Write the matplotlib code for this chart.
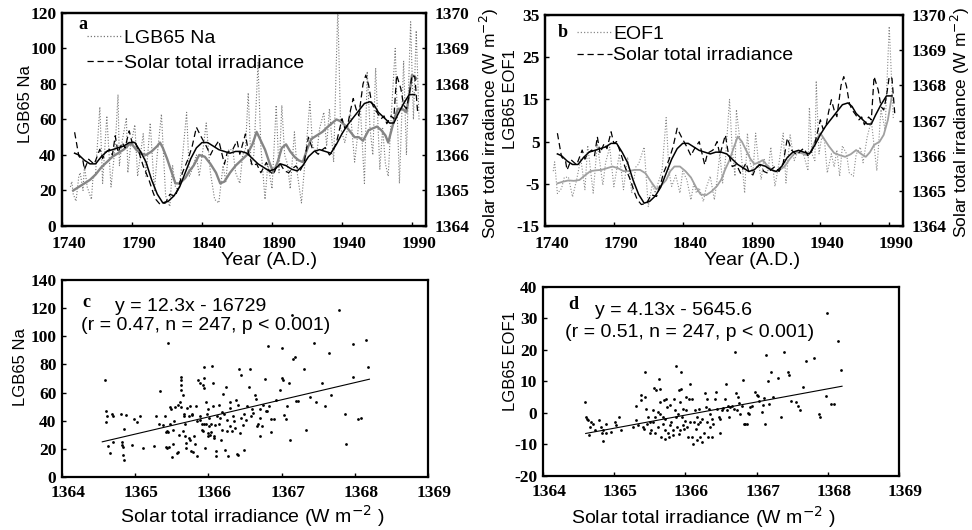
import matplotlib
matplotlib.use('Agg')
import matplotlib.pyplot as plt
from matplotlib.lines import Line2D
from matplotlib.transforms import ScaledTranslation

plt.rcParams['font.family'] = ['Liberation Sans', 'DejaVu Sans']

# ---------------- data ----------------
# Raw LGB65 Na series (panel a, dotted)
na_years = [1746, 1747, 1748, 1750, 1752, 1753, 1755, 1756, 1758, 1761, 1762, 1764, 1767, 1769,
            1772, 1774, 1775, 1778, 1780, 1781, 1783, 1786, 1787, 1789, 1792, 1794, 1796, 1798,
            1800, 1803, 1806, 1808, 1811, 1814, 1817, 1819, 1821, 1823, 1825, 1829, 1831, 1833,
            1836, 1838, 1841, 1843, 1846, 1849, 1852, 1855, 1857, 1859, 1862, 1864, 1867, 1869,
            1871, 1873, 1875, 1877, 1880, 1882, 1885, 1887, 1890, 1893, 1895, 1897, 1899, 1901,
            1903, 1906, 1908, 1911, 1914, 1917, 1919, 1922, 1924, 1927, 1929, 1931, 1934, 1937,
            1939, 1942, 1944, 1946, 1949, 1951, 1953, 1956, 1958, 1960, 1962, 1964, 1967, 1969,
            1971, 1973, 1975, 1978, 1981, 1984, 1986, 1989, 1991, 1993, 1995]
na_raw = [22, 25, 18, 14, 28, 30, 20, 34, 22, 15, 26, 30, 67, 24,
          62, 35, 22, 45, 74, 34, 48, 61, 30, 45, 57, 28, 40, 52,
          28, 58, 20, 40, 63, 17, 11, 34, 22, 20, 30, 64, 28, 32,
          40, 28, 45, 58, 30, 15, 13, 34, 25, 43, 43, 30, 24, 40,
          43, 75, 35, 40, 92, 45, 15, 35, 21, 68, 30, 68, 40, 35,
          21, 53, 30, 13, 40, 70, 45, 41, 55, 64, 45, 66, 36, 123,
          55, 47, 55, 64, 36, 50, 68, 24, 87, 55, 40, 89, 32, 55,
          35, 28, 60, 100, 24, 93, 40, 115, 60, 110, 60]

# Smoothed LGB65 Na (panel a, thick grey)
na_s_years = [1748, 1752, 1756, 1760, 1764, 1768, 1772, 1776, 1780, 1784, 1788, 1790, 1793, 1796,
              1800, 1804, 1808, 1810, 1812, 1815, 1818, 1821, 1824, 1828, 1831, 1834, 1838, 1842,
              1846, 1850, 1853, 1856, 1860, 1864, 1868, 1872, 1876, 1879, 1882, 1885, 1888, 1891,
              1894, 1897, 1900, 1903, 1906, 1909, 1912, 1915, 1918, 1922, 1926, 1930, 1933, 1936,
              1939, 1943, 1946, 1949, 1952, 1955, 1959, 1962, 1965, 1968, 1971, 1973, 1976, 1978,
              1980, 1983, 1986, 1988, 1990, 1992, 1993]
na_smooth = [20, 22, 24, 26, 29, 33, 36, 39, 41, 43, 46, 46, 43, 41,
             40, 42, 45, 47, 44, 38, 31, 24, 24, 27, 31, 34, 40, 39,
             35, 30, 24, 25, 30, 34, 37, 40, 46, 53, 48, 43, 36, 30,
             36, 44, 46, 42, 39, 37, 36, 43, 49, 51, 53, 56, 58, 60,
             59, 56, 53, 50, 50, 48, 54, 55, 56, 54, 51, 47, 56, 62,
             66, 66, 64, 74, 85, 84, 83]

# Raw LGB65 EOF1 series (panel b, dotted)
eof_years = [1746, 1747, 1749, 1752, 1754, 1757, 1760, 1763, 1766, 1769, 1771, 1775, 1778, 1782,
             1784, 1787, 1790, 1794, 1797, 1800, 1803, 1806, 1808, 1812, 1815, 1818, 1820, 1822,
             1825, 1828, 1830, 1832, 1835, 1838, 1840, 1843, 1846, 1848, 1850, 1852, 1855, 1857,
             1860, 1863, 1865, 1867, 1869, 1871, 1874, 1876, 1878, 1879, 1882, 1885, 1887, 1889,
             1891, 1893, 1895, 1897, 1899, 1902, 1904, 1907, 1910, 1913, 1915, 1918, 1921, 1924,
             1927, 1931, 1932, 1934, 1936, 1937, 1939, 1941, 1943, 1945, 1948, 1950, 1952, 1954,
             1956, 1959, 1961, 1964, 1966, 1969, 1971, 1974, 1977, 1979, 1981, 1984, 1987, 1990,
             1993]
eof_raw = [-2, 0.2, -7.3, -6.1, -3.5, -3.4, -8.1, -4, 1.0, -6.4, 4.1, -7.2, 4.5, -5.3,
           0, 3.7, -5.7, 2.1, -6.4, 1.3, -7.2, -1, -0.3, 3.7, -10.4, -5, -7.2, -5,
           -1.9, 10.7, -2, -5.6, -3, -7.2, -2, -4, -8.8, -5, -7.2, -6, -9.2, -6,
           -3.2, -8.8, -4, 2.1, -4.8, 0.5, 15, 3, -3.2, 12.6, 4, -7.2, 7.0, 0,
           -2.4, 7, 0, -4, 1, -2, 3.7, -5.6, 0, 7, -4.8, 6.6, 0.5, 3,
           2.9, -1.9, 13.1, 2, 0.5, 19.4, 2.1, 6, 5.3, -2.4, 2.1, -1, 3, -3.2,
           4, 2.1, -2.4, -3.2, 2, 3.7, 0, 6.1, 10, 4, -1.9, 12.6, 7.8, 32.3,
           10.2]

# Smoothed LGB65 EOF1 (panel b, light grey)
eof_s_years = [1749, 1753, 1757, 1761, 1765, 1769, 1773, 1777, 1781, 1785, 1789, 1793, 1797, 1801,
               1805, 1809, 1813, 1817, 1821, 1825, 1828, 1831, 1834, 1838, 1842, 1846, 1850, 1853,
               1857, 1861, 1865, 1868, 1871, 1874, 1877, 1880, 1883, 1886, 1889, 1892, 1895, 1898,
               1901, 1904, 1907, 1910, 1914, 1918, 1922, 1926, 1930, 1933, 1936, 1940, 1943, 1946,
               1950, 1954, 1958, 1962, 1966, 1970, 1973, 1976, 1979, 1983, 1986, 1989, 1991, 1992]
eof_smooth = [-4.9, -4.5, -4.2, -4.3, -4.1, -3.0, -2.0, -1.8, -1.7, -1.3, -0.9, -1.3, -2.0, -2.0,
              -1.7, -1.7, -2.5, -4.5, -6.3, -5.2, -4.1, -2.0, -0.9, -0.9, -2.0, -3.5, -6.0, -7.5,
              -7.7, -6.8, -5.5, -4.0, -1.5, 0.6, 3.5, 6.2, 5.0, 3.0, 1.0, -0.3, 0.0, 0.6,
              -0.5, -1.5, -2.1, -1.8, -0.9, 1.0, 2.5, 2.3, 1.8, 2.5, 5.0, 7.0, 5.5, 4.0,
              2.3, 1.8, 1.4, 2.0, 3.0, 2.0, 1.4, 2.5, 4.2, 5.0, 6.6, 10.1, 14.0, 16.0]

# Solar total irradiance (W m-2), raw (dashed) and smoothed (solid black)
solar_years = [1749, 1752, 1755, 1756, 1759, 1763, 1767, 1769, 1771, 1774, 1776, 1778, 1780, 1783,
               1785, 1788, 1790, 1792, 1795, 1798, 1802, 1805, 1807, 1810, 1814, 1817, 1821, 1824,
               1826, 1830, 1833, 1836, 1839, 1843, 1846, 1848, 1852, 1856, 1858, 1862, 1865, 1867,
               1871, 1873, 1876, 1879, 1882, 1886, 1888, 1891, 1893, 1896, 1899, 1902, 1904, 1907,
               1910, 1913, 1916, 1919, 1923, 1926, 1928, 1931, 1933, 1936, 1940, 1942, 1944, 1946,
               1948, 1950, 1952, 1955, 1957, 1959, 1961, 1963, 1965, 1968, 1970, 1972, 1975, 1977,
               1979, 1982, 1984, 1986, 1988, 1990, 1992, 1994]
solar_raw = [1366.64, 1365.97, 1365.83, 1365.59, 1365.88, 1365.74, 1366.16, 1365.90, 1366.07,
             1366.16, 1366.00, 1366.54, 1366.07, 1366.35, 1366.20, 1366.68, 1366.35, 1366.40,
             1366.07, 1365.69, 1365.31, 1364.95, 1364.75, 1364.61, 1364.65, 1364.89, 1364.84,
             1365.20, 1365.50, 1365.88, 1366.25, 1366.78, 1366.54, 1366.25, 1366.00, 1366.16,
             1366.40, 1365.74, 1366.07, 1366.16, 1366.40, 1366.02, 1366.59, 1366.10, 1365.69,
             1365.75, 1365.50, 1365.79, 1365.55, 1365.45, 1365.65, 1365.74, 1365.55, 1365.50,
             1365.60, 1365.69, 1365.55, 1365.79, 1366.50, 1366.16, 1366.02, 1366.15, 1366.21,
             1366.00, 1366.07, 1366.35, 1367.02, 1366.75, 1366.83, 1367.25, 1367.59, 1367.30,
             1367.11, 1368.00, 1368.25, 1367.97, 1367.50, 1367.30, 1367.20, 1367.02, 1367.10,
             1366.88, 1367.10, 1367.02, 1368.25, 1367.87, 1367.40, 1367.30, 1367.69, 1368.25,
             1368.20, 1367.21]
solar_s_years = [1749, 1752, 1756, 1760, 1764, 1768, 1772, 1776, 1780, 1784, 1788, 1792, 1796, 1800,
                 1804, 1808, 1812, 1816, 1820, 1824, 1828, 1832, 1836, 1840, 1844, 1848, 1852, 1856,
                 1860, 1864, 1868, 1872, 1876, 1880, 1884, 1888, 1892, 1896, 1900, 1904, 1908, 1912,
                 1916, 1920, 1924, 1928, 1932, 1936, 1940, 1944, 1948, 1952, 1956, 1960, 1963, 1966,
                 1970, 1974, 1977, 1980, 1984, 1988, 1992]
solar_smooth = [1366.05, 1366.0, 1365.85, 1365.75, 1365.75, 1365.95, 1366.1, 1366.15, 1366.2,
                1366.25, 1366.35, 1366.35, 1366.1, 1365.8, 1365.3, 1364.9, 1364.65, 1364.7,
                1364.85, 1365.1, 1365.5, 1365.9, 1366.2, 1366.35, 1366.35, 1366.25, 1366.15,
                1366.1, 1366.05, 1366.1, 1366.1, 1366.05, 1365.9, 1365.75, 1365.65, 1365.55,
                1365.6, 1365.75, 1365.7, 1365.6, 1365.55, 1365.7, 1365.95, 1366.1, 1366.15,
                1366.1, 1366.05, 1366.3, 1366.6, 1366.85, 1367.05, 1367.25, 1367.45, 1367.5,
                1367.4, 1367.2, 1367.05, 1366.9, 1366.9, 1367.15, 1367.45, 1367.7, 1367.7]

# Scatter c: solar irradiance vs LGB65 Na
c_x = [1364.59, 1364.60, 1364.60, 1364.62, 1364.63, 1364.65, 1364.68, 1364.70, 1364.70, 1364.80,
       1364.82, 1364.82, 1364.83, 1364.84, 1364.85, 1364.85, 1364.87, 1364.95, 1364.99, 1365.02,
       1365.07, 1365.10, 1365.26, 1365.29, 1365.32, 1365.34, 1365.38, 1365.41, 1365.42, 1365.43,
       1365.45, 1365.42, 1365.44, 1365.46, 1365.45, 1365.48, 1365.48, 1365.49, 1365.50, 1365.51,
       1365.52, 1365.53, 1365.54, 1365.57, 1365.58, 1365.59, 1365.60, 1365.61, 1365.62, 1365.63,
       1365.63, 1365.63, 1365.63, 1365.65, 1365.65, 1365.66, 1365.67, 1365.68, 1365.68, 1365.69,
       1365.70, 1365.71, 1365.73, 1365.74, 1365.75, 1365.75, 1365.76, 1365.77, 1365.78, 1365.79,
       1365.80, 1365.82, 1365.83, 1365.84, 1365.85, 1365.86, 1365.88, 1365.89, 1365.89, 1365.91,
       1365.91, 1365.92, 1365.93, 1365.94, 1365.94, 1365.94, 1365.94, 1365.95, 1365.97, 1365.97,
       1365.98, 1365.99, 1366.00, 1366.00, 1366.01, 1366.01, 1366.02, 1366.03, 1366.04, 1366.05,
       1366.06, 1366.06, 1366.07, 1366.08, 1366.09, 1366.10, 1366.11, 1366.12, 1366.14, 1366.15,
       1366.16, 1366.17, 1366.18, 1366.19, 1366.20, 1366.21, 1366.23, 1366.24, 1366.25, 1366.26,
       1366.27, 1366.29, 1366.30, 1366.30, 1366.32, 1366.34, 1366.35, 1366.36, 1366.38, 1366.39,
       1366.40, 1366.41, 1366.42, 1366.43, 1366.44, 1366.45, 1366.47, 1366.48, 1366.49, 1366.51,
       1366.53, 1366.56, 1366.57, 1366.58, 1366.60, 1366.61, 1366.64, 1366.65, 1366.66, 1366.68,
       1366.70, 1366.70, 1366.71, 1366.73, 1366.75, 1366.77, 1366.79, 1366.80, 1366.82, 1366.83,
       1366.85, 1366.86, 1366.89, 1366.93, 1366.98, 1367.00, 1367.01, 1367.02, 1367.03, 1367.06,
       1367.08, 1367.10, 1367.11, 1367.14, 1367.16, 1367.18, 1367.20, 1367.23, 1367.31, 1367.33,
       1367.39, 1367.44, 1367.47, 1367.55, 1367.59, 1367.65, 1367.68, 1367.79, 1367.86, 1367.88,
       1367.98, 1367.98, 1368.05, 1368.09, 1368.15, 1368.18]
c_y = [68.6, 47, 39, 43.7, 21.7, 16.8, 45, 43.7, 25, 45,
       24.6, 23, 21, 15.4, 12, 34, 44, 23, 41, 39,
       43, 20.6, 21.7, 43, 37.8, 61, 37, 43.5, 32, 32.5,
       32, 21, 20.5, 21, 95.5, 38, 50, 48, 14, 23.6,
       33.6, 40, 50, 17, 51, 17.5, 30, 53, 49.6, 71,
       69, 65.5, 62, 58.4, 32.4, 43, 45, 38, 29, 24,
       20.6, 49, 43, 27.7, 26.5, 50.6, 18.7, 44, 45, 18,
       29, 23.6, 50.6, 39.5, 14.7, 69, 43, 66.7, 40.7, 33.6,
       37.8, 65.5, 32.4, 78, 70, 63, 38, 20.6, 53, 37.8,
       45, 29, 48, 31, 42, 36, 30, 38, 32, 79,
       67, 50.6, 29, 27.7, 37, 14.7, 18.7, 43, 38, 51,
       42, 26.5, 33.6, 46, 59, 45, 19.4, 64.3, 40.7, 32.4,
       14.7, 49, 53, 36, 32.4, 43, 39.5, 34.8, 54.4, 16.5,
       15.8, 51, 77, 31, 42, 72.6, 37, 45, 19.4, 40.7,
       50.6, 64, 76.6, 43, 48, 45.4, 58.4, 55.3, 36, 38,
       42, 48, 29.3, 36, 51, 69.5, 46.6, 46.6, 93, 50.6,
       31.7, 41, 41, 54.4, 61.5, 91.5, 70, 69, 44, 41,
       50.6, 66.7, 26, 115, 83.7, 85, 53.7, 53.7, 76.6, 33.6,
       57, 95.5, 53, 66.7, 50.6, 88.4, 58.4, 118.7, 45, 23.6,
       71.4, 94.6, 41, 42, 97.4, 78]
c_line_x = [1364.55, 1368.2]
c_line_y = [25.0, 69.5]

# Scatter d: solar irradiance vs LGB65 EOF1
d_x = [1364.59, 1364.60, 1364.62, 1364.63, 1364.65, 1364.66, 1364.68, 1364.70, 1364.73, 1364.79,
       1364.82, 1364.83, 1364.84, 1364.85, 1364.88, 1364.88, 1364.96, 1365.01, 1365.03, 1365.07,
       1365.10, 1365.27, 1365.30, 1365.31, 1365.34, 1365.37, 1365.38, 1365.41, 1365.42, 1365.43,
       1365.44, 1365.45, 1365.46, 1365.48, 1365.50, 1365.51, 1365.52, 1365.54, 1365.55, 1365.56,
       1365.57, 1365.58, 1365.59, 1365.61, 1365.62, 1365.63, 1365.64, 1365.64, 1365.65, 1365.66,
       1365.68, 1365.69, 1365.70, 1365.71, 1365.71, 1365.72, 1365.73, 1365.74, 1365.76, 1365.77,
       1365.78, 1365.79, 1365.80, 1365.82, 1365.83, 1365.84, 1365.85, 1365.87, 1365.87, 1365.88,
       1365.90, 1365.91, 1365.91, 1365.92, 1365.93, 1365.94, 1365.94, 1365.95, 1365.96, 1365.97,
       1365.98, 1365.99, 1366.01, 1366.01, 1366.02, 1366.04, 1366.05, 1366.06, 1366.07, 1366.09,
       1366.10, 1366.11, 1366.12, 1366.13, 1366.15, 1366.16, 1366.17, 1366.18, 1366.19, 1366.20,
       1366.21, 1366.23, 1366.24, 1366.26, 1366.27, 1366.29, 1366.30, 1366.31, 1366.32, 1366.33,
       1366.34, 1366.35, 1366.37, 1366.38, 1366.39, 1366.41, 1366.43, 1366.45, 1366.47, 1366.48,
       1366.49, 1366.51, 1366.53, 1366.55, 1366.57, 1366.59, 1366.60, 1366.61, 1366.63, 1366.66,
       1366.68, 1366.69, 1366.71, 1366.72, 1366.74, 1366.76, 1366.77, 1366.79, 1366.81, 1366.82,
       1366.84, 1366.86, 1366.88, 1366.90, 1366.91, 1366.94, 1366.98, 1367.00, 1367.02, 1367.04,
       1367.07, 1367.09, 1367.10, 1367.12, 1367.13, 1367.16, 1367.18, 1367.20, 1367.23, 1367.30,
       1367.34, 1367.38, 1367.44, 1367.46, 1367.49, 1367.56, 1367.58, 1367.61, 1367.65, 1367.70,
       1367.81, 1367.87, 1367.89, 1367.97, 1367.99, 1368.05, 1368.09, 1368.15, 1368.19]
d_y = [3.5, -1.3, -1.8, -2.3, -7, -4.4, -2.8, -3.6, -5.3, -2.3,
       -4.4, -6.5, -8.8, -5.3, -6.5, -3.4, -6, -2.8, -3.9, -1.3,
       -5.3, -4.4, -2.3, 2.1, -3.9, 4, 5.6, -4.4, -5, 5,
       13, 1.4, -3.4, -1.3, -6.5, -2.8, -5.5, 0.8, -2.8, 8,
       -1.3, -6.3, 7.2, 0.3, -4.4, 10.8, 7.7, 3.5, -0.2, -7.6,
       -1.3, -3.4, 4, -5.5, -8.1, -1.8, 4.5, 1.9, -6.5, -7.6,
       -3.9, 2.4, -2.8, -7, -5.3, 4.5, 0.8, 15, -1.3, -4.4,
       -0.2, 7.2, -6.7, 3.5, -5.5, 7.7, 13, -1.3, -3.9, 1.4,
       -5, -2.5, 0.8, 5, -4.4, -7.6, 4.5, 9.3, -2.8, -7.6,
       4.5, -9.7, -2.8, 0.8, -5, -1.3, -8.6, -3.4, 1.4, -2.8,
       -7.6, -9.2, -1.8, -6.5, 6.3, 1.9, 4.5, -2.8, -7.6, 1.4,
       -4.4, -0.2, -7.6, -1.8, -3.6, 4.5, 6.6, 1.4, -1.3, -1.8,
       -6.3, 0.8, 1.7, 4.5, 9.3, 0.8, 2.1, -1.3, 1.9, 2.1,
       1.4, 19.3, 6.3, 0.8, 5, 3.2, -0.4, 2.1, 10.5, -3.4,
       -3.4, -3.4, 0, -0.4, 1.9, 2.1, 6.6, 5.6, 5.3, 3.8,
       0.3, 2.4, 4.8, -3.4, 18.5, 10.3, 2.9, 13, 5, 11.2,
       -1.3, 19.3, 13, 12.2, 3.8, 3.5, 2.1, 0.8, 8.4, 16.4,
       17.5, -0.4, -1.3, 5.3, 31.9, 2.7, 2.9, 22.7, 13.7]
d_line_x = [1364.6, 1368.2]
d_line_y = [-6.5, 8.5]

# ticks
year_ticks = [1740, 1790, 1840, 1890, 1940, 1990]
solar_ticks = [1364, 1365, 1366, 1367, 1368, 1369, 1370]
na_ticks = [0, 20, 40, 60, 80, 100, 120]
eof_ticks = [-15, -5, 5, 15, 25, 35]
sc_x_ticks = [1364, 1365, 1366, 1367, 1368, 1369]
c_y_ticks = [0, 20, 40, 60, 80, 100, 120, 140]
d_y_ticks = [-20, -10, 0, 10, 20, 30, 40]

# ---------------- style helpers ----------------
TF = dict(fontfamily='Liberation Serif', fontweight='bold', fontsize=12.5)
HLAB = 14      # horizontal sans texts
VLAB = 12      # rotated axis labels
GREY_DOT = '#777777'

fig = plt.figure(figsize=(9.72, 5.30), dpi=100)


def frame(ax, xpad=5):
    for s in ax.spines.values():
        s.set_linewidth(1.6)
    ax.tick_params(direction='in', length=3, width=1)
    ax.tick_params(axis='y', pad=4)
    ax.tick_params(axis='x', pad=xpad)


def shift_xlabels(ax, dx_px=6):
    off = ScaledTranslation(dx_px / 100.0, 0, fig.dpi_scale_trans)
    for lab in ax.get_xticklabels():
        lab.set_transform(lab.get_transform() + off)


def letter(ax, x, y, s):
    ax.text(x, y, s, transform=ax.transAxes, fontfamily='Liberation Serif',
            fontweight='bold', fontsize=13, va='center', ha='left')


ax_a = fig.add_axes([0.0638, 0.5736, 0.3745, 0.402])
ax_b = fig.add_axes([0.5607, 0.5736, 0.3683, 0.398])
ax_c = fig.add_axes([0.0638, 0.100, 0.3765, 0.3717])
ax_d = fig.add_axes([0.5586, 0.1019, 0.3663, 0.3566])

# ---------------- panel a ----------------
ax_a.plot(na_years, na_raw, color=GREY_DOT, ls=(0, (1, 1.6)), lw=0.8)
ax_a.plot(na_s_years, na_smooth, color='#858585', lw=1.7)
ax_a.set_xlim(1740, 2000)
ax_a.set_ylim(0, 120)
ax_a.set_xticks(year_ticks, labels=[str(t) for t in year_ticks], **TF)
ax_a.set_yticks(na_ticks, labels=[str(t) for t in na_ticks], **TF)
ax_a.set_ylabel('LGB65 Na', fontsize=VLAB)
ax_a.yaxis.set_label_coords(-0.08, 0.573)
ax_a.set_xlabel('Year (A.D.)', fontsize=HLAB)
ax_a.xaxis.set_label_coords(0.57, -0.122)
frame(ax_a, xpad=7)
shift_xlabels(ax_a, 7)
ax_a2 = ax_a.twinx()
ax_a2.plot(solar_years, solar_raw, color='black', ls=(0, (5, 3)), lw=0.9)
ax_a2.plot(solar_s_years, solar_smooth, color='black', lw=1.1)
ax_a2.set_ylim(1364, 1370)
ax_a2.set_yticks(solar_ticks, labels=[str(t) for t in solar_ticks], **TF)
ax_a2.set_ylabel('Solar total irradiance (W m$^{-2}$)', fontsize=12.5)
ax_a2.yaxis.set_label_coords(1.143, 0.48)
frame(ax_a2)
ax_a2.tick_params(axis='y', pad=6)
letter(ax_a, 0.045, 0.945, 'a')
h_dot = Line2D([], [], color=GREY_DOT, ls=(0, (1, 1.6)), lw=0.9)
h_dash = Line2D([], [], color='black', ls=(0, (5, 3)), lw=0.9)
ax_a2.legend([h_dot, h_dash], ['LGB65 Na', 'Solar total irradiance'], loc='upper left',
             bbox_to_anchor=(0.068, 0.925), frameon=False, fontsize=HLAB, handlelength=1.8,
             handletextpad=0.1, labelspacing=0.42, borderpad=0, borderaxespad=0)

# ---------------- panel b ----------------
ax_b.plot(eof_years, eof_raw, color='#8a8a8a', ls=(0, (1, 1.6)), lw=0.8)
ax_b.plot(eof_s_years, eof_smooth, color='#a0a0a0', lw=1.3)
ax_b.set_xlim(1740, 2000)
ax_b.set_ylim(-15, 35)
ax_b.set_xticks(year_ticks, labels=[str(t) for t in year_ticks], **TF)
ax_b.set_yticks(eof_ticks, labels=[str(t) for t in eof_ticks], **TF)
ax_b.set_ylabel('LGB65 EOF1', fontsize=VLAB)
ax_b.yaxis.set_label_coords(-0.075, 0.6)
ax_b.set_xlabel('Year (A.D.)', fontsize=HLAB)
ax_b.xaxis.set_label_coords(0.578, -0.122)
frame(ax_b, xpad=7)
shift_xlabels(ax_b, 7)
ax_b2 = ax_b.twinx()
ax_b2.plot(solar_years, solar_raw, color='black', ls=(0, (5, 3)), lw=0.9)
ax_b2.plot(solar_s_years, solar_smooth, color='black', lw=1.1)
ax_b2.set_ylim(1364, 1370)
ax_b2.set_yticks(solar_ticks, labels=[str(t) for t in solar_ticks], **TF)
ax_b2.set_ylabel('Solar total irradiance (W m$^{-2}$)', fontsize=12.5)
ax_b2.yaxis.set_label_coords(1.128, 0.49)
frame(ax_b2)
ax_b2.tick_params(axis='y', pad=6)
letter(ax_b, 0.035, 0.915, 'b')
h_dot2 = Line2D([], [], color='#8a8a8a', ls=(0, (1, 1.6)), lw=0.9)
ax_b2.legend([h_dot2, h_dash], ['EOF1', 'Solar total irradiance'], loc='upper left',
             bbox_to_anchor=(0.088, 0.95), frameon=False, fontsize=HLAB, handlelength=1.8,
             handletextpad=0.1, labelspacing=0.18, borderpad=0, borderaxespad=0)

# ---------------- panel c ----------------
ax_c.scatter(c_x, c_y, s=4, color='black', linewidths=0)
ax_c.plot(c_line_x, c_line_y, color='black', lw=0.8)
ax_c.set_xlim(1364, 1369)
ax_c.set_ylim(0, 140)
ax_c.set_xticks(sc_x_ticks, labels=[str(t) for t in sc_x_ticks], **TF)
ax_c.set_yticks(c_y_ticks, labels=[str(t) for t in c_y_ticks], **TF)
ax_c.set_ylabel('LGB65 Na', fontsize=VLAB)
ax_c.yaxis.set_label_coords(-0.093, 0.56)
ax_c.set_xlabel('Solar total irradiance (W m$^{-2}$ )', fontsize=HLAB)
ax_c.xaxis.set_label_coords(0.52, -0.135)
frame(ax_c, xpad=6)
shift_xlabels(ax_c)
letter(ax_c, 0.055, 0.885, 'c')
ax_c.text(0.145, 0.863, 'y = 12.3x - 16729', transform=ax_c.transAxes, fontsize=HLAB, va='center')
ax_c.text(0.052, 0.77, '(r = 0.47, n = 247, p < 0.001)', transform=ax_c.transAxes,
          fontsize=HLAB, va='center')

# ---------------- panel d ----------------
ax_d.scatter(d_x, d_y, s=4, color='black', linewidths=0)
ax_d.plot(d_line_x, d_line_y, color='black', lw=0.8)
ax_d.set_xlim(1364, 1369)
ax_d.set_ylim(-20, 40)
ax_d.set_xticks(sc_x_ticks, labels=[str(t) for t in sc_x_ticks], **TF)
ax_d.set_yticks(d_y_ticks, labels=[str(t) for t in d_y_ticks], **TF)
ax_d.set_ylabel('LGB65 EOF1', fontsize=VLAB)
ax_d.yaxis.set_label_coords(-0.07, 0.61)
ax_d.set_xlabel('Solar total irradiance (W m$^{-2}$ )', fontsize=HLAB)
ax_d.xaxis.set_label_coords(0.45, -0.15)
frame(ax_d, xpad=6)
shift_xlabels(ax_d)
letter(ax_d, 0.07, 0.91, 'd')
ax_d.text(0.146, 0.874, 'y = 4.13x - 5645.6', transform=ax_d.transAxes, fontsize=HLAB, va='center')
ax_d.text(0.062, 0.758, '(r = 0.51, n = 247, p < 0.001)', transform=ax_d.transAxes,
          fontsize=HLAB, va='center')

fig.savefig('out.png', dpi=100)
